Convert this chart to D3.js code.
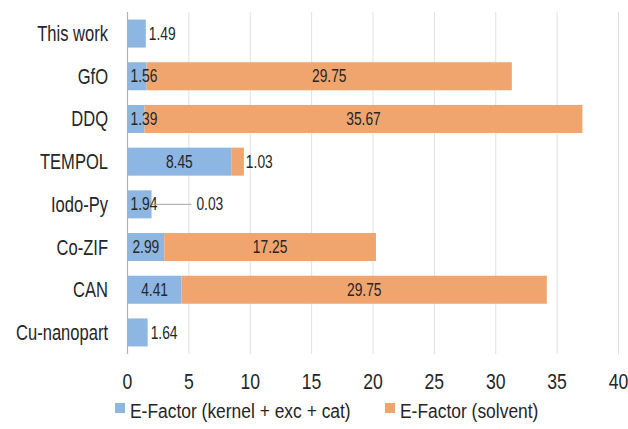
<!DOCTYPE html>
<html>
<head>
<meta charset="utf-8">
<script src="https://cdn.jsdelivr.net/npm/d3@7"></script>
<style>
  html, body { margin: 0; padding: 0; background: #fff; }
  svg { display: block; font-family: "Liberation Sans", Arial, sans-serif; }
</style>
</head>
<body>
<svg id="chart" width="628" height="429"></svg>
<script>
// E-Factor comparison by method
const categories = ["This work", "GfO", "DDQ", "TEMPOL", "Iodo-Py", "Co-ZIF", "CAN", "Cu-nanopart"];
const kernelExcCat = [1.49, 1.56, 1.39, 8.45, 1.94, 2.99, 4.41, 1.64];
const solvent = [0, 29.75, 35.67, 1.03, 0.03, 17.25, 29.75, 0];
const xTicks = [0, 5, 10, 15, 20, 25, 30, 35, 40];
const seriesNames = ["E-Factor (kernel + exc + cat)", "E-Factor (solvent)"];
const seriesColors = ["#8db6e2", "#f0a56f"];

const svg = d3.select("#chart");
const x = d3.scaleLinear().domain([0, 40]).range([127.5, 618.5]);
const y = d3.scaleBand().domain(categories).range([12, 354]).paddingInner(0.344).paddingOuter(0.177);

// condensed text helper: horizontal squeeze around the anchor point
function label(g, px, py, str, size, sx, anchor) {
  return g.append("text")
    .attr("transform", `translate(${px},${py}) scale(${sx},1)`)
    .attr("text-anchor", anchor)
    .attr("font-size", size)
    .attr("fill", "#262626")
    .text(str);
}

// gridlines
const grid = svg.append("g");
grid.selectAll("line").data(xTicks.slice(1)).join("line")
  .attr("x1", d => x(d)).attr("x2", d => x(d))
  .attr("y1", 12).attr("y2", 354)
  .attr("stroke", "#e0e0e0").attr("stroke-width", 1);

// stacked bars
const rows = categories.map((c, i) => ({ c, k: kernelExcCat[i], s: solvent[i] }));
const bars = svg.append("g");
bars.selectAll("rect.k").data(rows).join("rect").attr("class", "k")
  .attr("x", x(0)).attr("y", d => y(d.c))
  .attr("width", d => x(d.k) - x(0)).attr("height", y.bandwidth())
  .attr("fill", seriesColors[0]);
bars.selectAll("rect.s").data(rows.filter(d => d.s > 0)).join("rect").attr("class", "s")
  .attr("x", d => x(d.k)).attr("y", d => y(d.c))
  .attr("width", d => x(d.k + d.s) - x(d.k)).attr("height", y.bandwidth())
  .attr("fill", seriesColors[1]);

// value axis line at zero
svg.append("line")
  .attr("x1", x(0)).attr("x2", x(0)).attr("y1", 12).attr("y2", 354)
  .attr("stroke", "#b3b3b3").attr("stroke-width", 1.2);

// tick labels
const ticks = svg.append("g");
xTicks.forEach(t => label(ticks, x(t), 389, String(t), 22, 0.8, "middle"));

// category labels
const cats = svg.append("g");
categories.forEach(c => label(cats, 108, y(c) + y.bandwidth() / 2, c, 21.5, 0.77, "end").attr("dy", "0.35em"));

// value labels
const vl = svg.append("g");
const LS = 17.5, LSX = 0.79;
rows.forEach(d => {
  const cy = y(d.c) + y.bandwidth() / 2;
  const kt = label(vl, 0, cy, d.k.toFixed(2), LS, LSX, "middle").attr("dy", "0.35em");
  const kw = kt.node().getComputedTextLength() * LSX;
  let kRight;
  if (d.s > 0 || x(d.k) - x(0) > kw + 6) {
    const cx = Math.max((x(0) + x(d.k)) / 2, x(0) + 3 + kw / 2);
    kt.attr("transform", `translate(${cx},${cy}) scale(${LSX},1)`);
    kRight = cx + kw / 2;
  } else {
    const lx = x(d.k) + 3;
    kt.attr("text-anchor", "start").attr("transform", `translate(${lx},${cy}) scale(${LSX},1)`);
    kRight = lx + kw;
  }
  if (d.s > 0) {
    const st = label(vl, 0, cy, d.s.toFixed(2), LS, LSX, "middle").attr("dy", "0.35em");
    const sw = st.node().getComputedTextLength() * LSX;
    const x0 = x(d.k), x1 = x(d.k + d.s);
    if (x1 - x0 > sw + 6) {
      st.attr("transform", `translate(${(x0 + x1) / 2},${cy}) scale(${LSX},1)`);
    } else if (x1 - x0 > 3) {
      st.attr("text-anchor", "start").attr("transform", `translate(${x1 + 2},${cy}) scale(${LSX},1)`);
    } else {
      // sliver segment: push label clear of the neighbour and draw a leader line
      const lx = kRight + 39;
      st.attr("text-anchor", "start").attr("transform", `translate(${lx},${cy}) scale(${LSX},1)`);
      vl.append("line")
        .attr("x1", x1).attr("x2", lx - 5).attr("y1", cy).attr("y2", cy)
        .attr("stroke", "#a6a6a6").attr("stroke-width", 1);
    }
  }
});

// legend
const lg = svg.append("g");
const legendX = [115, 385];
seriesNames.forEach((n, i) => {
  lg.append("rect").attr("x", legendX[i]).attr("y", 403).attr("width", 10).attr("height", 10)
    .attr("fill", seriesColors[i]);
  label(lg, legendX[i] + 15, 417.5, n, 21, 0.83, "start");
});
</script>
</body>
</html>
